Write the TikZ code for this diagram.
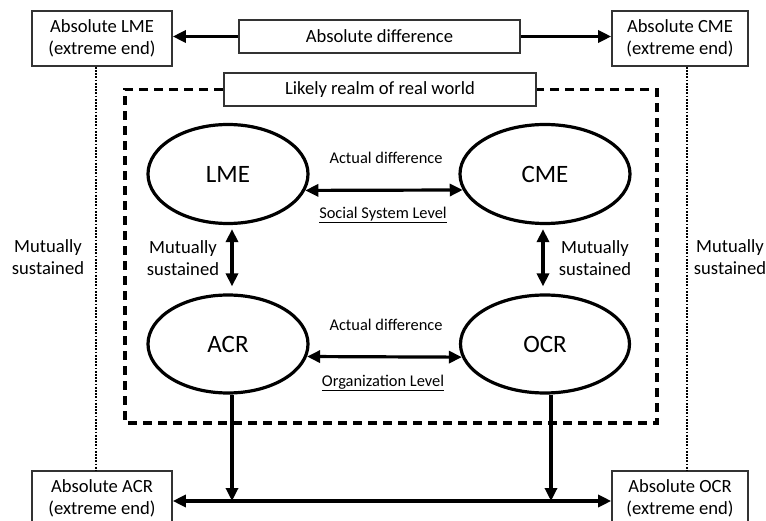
\documentclass[tikz,border=0pt]{standalone}
\usepackage{fontspec}
\setmainfont{Carlito}
\usetikzlibrary{shapes}
\usetikzlibrary{positioning}
\usetikzlibrary{arrows.meta}
\tikzset{
    mybox/.style = {rectangle, draw=black!80, line width=1.6pt, align=center, inner sep=0pt, font=\fontsize{18.6}{22}\selectfont, text=black},
    myellipse/.style = {ellipse, draw=black, line width=3.2pt, inner sep=0pt, font=\fontsize{25}{30}\selectfont, text=black},
    mylabel/.style = {align=center, inner sep=0pt, font=\fontsize{18.6}{22}\selectfont, text=black},
    mysmall/.style = {align=center, inner sep=0pt, font=\fontsize{16.4}{19}\selectfont, text=black},
    edgen/.style = {-{Triangle[length=13pt,width=12pt]}, line width=3.2pt, black},
    edgeb/.style = {{Triangle[length=13pt,width=12pt]}-{Triangle[length=13pt,width=12pt]}, line width=3.2pt, black},
    edgedot/.style = {-, line width=2.6pt, black, dash pattern=on 1.8pt off 1.4pt}, % outer
    edgedash/.style = {-, line width=3.2pt, black, dash pattern=on 9pt off 6pt} % real world
}

\begin{document}
\begin{tikzpicture}[x=1pt,y=-1pt]
  \useasboundingbox (0,0) rectangle (766,521);
  % extreme ends
  \node[mybox, minimum width=140pt, minimum height=55pt] (lmeAbs) at (102,38.5) {Absolute LME\\(extreme end)};
  \node[mybox, minimum width=136pt, minimum height=55pt] (cmeAbs) at (680,38.5) {Absolute CME\\(extreme end)};
  \node[mybox, minimum width=140pt, minimum height=55pt] (acrAbs) at (102,498.5) {Absolute ACR\\(extreme end)};
  \node[mybox, minimum width=136pt, minimum height=55pt] (ocrAbs) at (680,498.5) {Absolute OCR\\(extreme end)};
  \node[mybox, minimum width=281pt, minimum height=33pt] (absDiff) at (379.5,36.5) {Absolute difference};
  \node[mybox, minimum width=312pt, minimum height=33pt] (realm) at (380,89.5) {Likely realm of real world};
  \draw[edgedash] (realm.west) -- (125,89.5) -- (125,423) -- (657,423) -- (657,89.5) -- (realm.east);

  % real world
  \node[myellipse, minimum width=160pt, minimum height=99pt] (lme) at (228,174) {LME};
  \node[myellipse, minimum width=170pt, minimum height=99pt] (cme) at (545,174) {CME};
  \node[myellipse, minimum width=160pt, minimum height=98pt] (acr) at (228,344) {ACR};
  \node[myellipse, minimum width=169pt, minimum height=98pt] (ocr) at (545,344) {OCR};

  \node[mysmall] (lmeDiff) at (386,158) {Actual difference};
  \node[mysmall] (lmeLevel) at (383,215) {\underline{Social System Level}};
  \node[mysmall] (acrDiff) at (386,325) {Actual difference};
  \node[mysmall] (acrLevel) at (383,383) {\underline{Organization Level}};
  \node[mylabel] (lmeSust) at (183,258) {Mutually\\sustained};
  \node[mylabel] (cmeSust) at (595,258) {Mutually\\sustained};
  \node[mylabel] (lmeOut) at (48,257) {Mutually\\sustained};
  \node[mylabel] (cmeOut) at (730,257) {Mutually\\sustained};

  \draw[edgen] (absDiff.west) -- (absDiff.west -| lmeAbs.east);
  \draw[edgen] (absDiff.east) -- (absDiff.east -| cmeAbs.west);
  \draw[edgeb] (lme.-12) -- (cme.191);
  \draw[edgeb] (acr.-9.6) -- (ocr.189);
  \draw[edgeb] ([xshift=4pt,yshift=-4pt]lme.south) -- ([xshift=4pt,yshift=7pt]acr.north);
  \draw[edgeb] ([xshift=-2pt,yshift=-4pt]cme.south) -- ([xshift=-2pt,yshift=7pt]ocr.north);
  \draw[edgedot] ([xshift=-6pt]lmeAbs.south) -- ([xshift=-6pt]acrAbs.north);
  \draw[edgedot] ([xshift=7pt]cmeAbs.south) -- ([xshift=7pt]ocrAbs.north);

  \coordinate (acrFoot) at (232,501);
  \coordinate (ocrFoot) at (551,501);
  \draw[edgen] ([xshift=4pt]acr.south) -- (acrFoot);
  \draw[edgen] ([xshift=6pt]ocr.south) -- (ocrFoot);
  \draw[edgeb] ([yshift=-2.5pt]acrAbs.east) -- ([yshift=-2.5pt]ocrAbs.west);
\end{tikzpicture}
\end{document}
